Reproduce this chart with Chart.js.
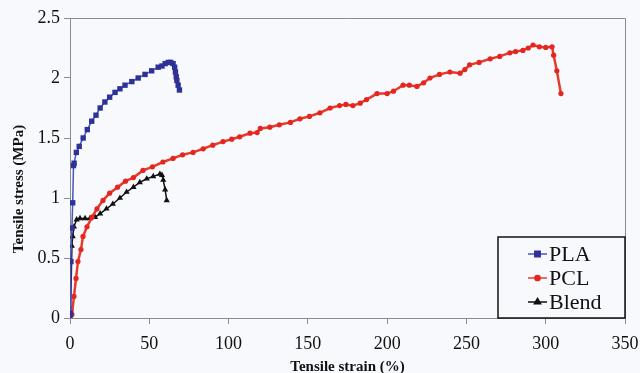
<!DOCTYPE html>
<html>
<head>
<meta charset="utf-8">
<script src="https://cdn.jsdelivr.net/npm/chart.js@4/dist/chart.umd.min.js"></script>
<style>
html, body { margin: 0; padding: 0; background: #f8f9fc; }
#wrap { width: 640px; height: 373px; }
</style>
</head>
<body>
<div id="wrap"><canvas id="canvas" width="640" height="373"></canvas></div>
<script>
// tick labels
var xTicks = [0, 50, 100, 150, 200, 250, 300, 350];
var yTicks = [0, 0.5, 1, 1.5, 2, 2.5];

// PLA
var plaStrain = [0, 0.3, 0.6, 1.2, 1.7, 2.2, 2.6, 4, 5.8, 8.3, 10.9, 13.7, 16.4, 19, 22, 25, 28.4, 31.5, 34.7, 39, 43, 47.3, 51.5, 55.6, 58, 60, 62, 63.5, 65, 66, 66.5, 67, 67.4, 68.2, 69];
var plaStress = [0, 0.04, 0.47, 0.75, 0.96, 1.27, 1.29, 1.38, 1.43, 1.5, 1.57, 1.64, 1.69, 1.75, 1.8, 1.84, 1.88, 1.91, 1.94, 1.97, 2.0, 2.03, 2.06, 2.09, 2.1, 2.12, 2.13, 2.13, 2.12, 2.09, 2.05, 2.01, 1.98, 1.94, 1.9];

// PCL
var pclStrain = [0, 1.2, 2.5, 3.8, 5, 6.9, 8.2, 10.7, 13.9, 17, 20.8, 25, 30, 35, 40, 46, 52, 58.6, 65, 71, 77.6, 84, 90, 96.5, 102, 107, 113.5, 118, 120, 126, 132, 139, 145, 151, 157.6, 164, 170, 174, 178.4, 183, 187, 193.6, 200, 204, 210, 214, 218.8, 223, 227, 233, 239.6, 246, 249, 252, 258, 265, 271, 277.4, 281, 285.6, 289, 292, 296, 300, 304, 305, 307, 309.6];
var pclStress = [0, 0.03, 0.18, 0.33, 0.47, 0.57, 0.68, 0.76, 0.84, 0.91, 0.98, 1.04, 1.09, 1.14, 1.17, 1.23, 1.26, 1.3, 1.33, 1.36, 1.38, 1.41, 1.44, 1.47, 1.49, 1.51, 1.54, 1.545, 1.58, 1.59, 1.61, 1.63, 1.66, 1.68, 1.71, 1.75, 1.77, 1.78, 1.77, 1.79, 1.82, 1.87, 1.87, 1.89, 1.94, 1.94, 1.93, 1.96, 2.0, 2.03, 2.05, 2.04, 2.07, 2.11, 2.13, 2.16, 2.18, 2.21, 2.22, 2.23, 2.25, 2.275, 2.26, 2.255, 2.26, 2.19, 2.06, 1.87];

// Blend
var blendStrain = [0, 0.4, 1.2, 1.7, 2.5, 4.2, 6.3, 9.5, 12.6, 15.8, 19, 23, 27, 31.5, 35.7, 40, 44, 48.4, 52.5, 56.7, 58, 58.8, 60, 61];
var blendStress = [0, 0.08, 0.6, 0.68, 0.76, 0.82, 0.83, 0.83, 0.83, 0.84, 0.87, 0.91, 0.95, 1.0, 1.05, 1.09, 1.13, 1.16, 1.18, 1.2, 1.19, 1.15, 1.07, 0.98];

function pts(xs, ys) {
        return xs.map(function(x, i) { return {x: x, y: ys[i]}; });
}

var serif = 'Liberation Serif, Times New Roman, serif';
var axisGray = '#8c8c8c';

// light background + top/right frame + y title + boxed legend
var decor = {
        id: 'decor',
        beforeDraw: function(chart) {
                var ctx = chart.ctx;
                ctx.save();
                ctx.fillStyle = '#f8f9fc';
                ctx.fillRect(0, 0, chart.width, chart.height);
                ctx.restore();
        },
        afterDraw: function(chart) {
                var ctx = chart.ctx, a = chart.chartArea;
                ctx.save();
                ctx.strokeStyle = axisGray;
                ctx.lineWidth = 1;
                ctx.beginPath();
                ctx.moveTo(a.left, a.top + 0.5);
                ctx.lineTo(a.right + 0.5, a.top + 0.5);
                ctx.lineTo(a.right + 0.5, a.bottom);
                ctx.stroke();

                // y axis title
                ctx.fillStyle = '#111';
                ctx.font = 'bold 15px ' + serif;
                ctx.textAlign = 'center';
                ctx.textBaseline = 'middle';
                ctx.translate(19, 189);
                ctx.rotate(-Math.PI / 2);
                ctx.fillText('Tensile stress (MPa)', 0, 0);
                ctx.restore();

                // legend box
                var w = 127, h = 81;
                var bx = a.right - w, by = a.bottom - h;
                ctx.save();
                ctx.fillStyle = '#f8f9fc';
                ctx.fillRect(bx, by, w, h);
                ctx.strokeStyle = '#111';
                ctx.lineWidth = 1.5;
                ctx.strokeRect(bx, by, w, h);
                ctx.font = '22px ' + serif;
                ctx.textBaseline = 'middle';
                ctx.textAlign = 'left';
                chart.data.datasets.forEach(function(ds, i) {
                        var y = by + 17 + i * 24;
                        ctx.strokeStyle = ds.borderColor;
                        ctx.lineWidth = 1.5;
                        ctx.beginPath();
                        ctx.moveTo(bx + 30, y);
                        ctx.lineTo(bx + 49, y);
                        ctx.stroke();
                        ctx.fillStyle = ds.pointBackgroundColor;
                        ctx.strokeStyle = ds.pointBackgroundColor;
                        Chart.helpers.drawPoint(ctx, {
                                pointStyle: ds.pointStyle,
                                radius: ds.pointRadius,
                                borderWidth: 1
                        }, bx + 39.5, y);
                        ctx.fillStyle = '#111';
                        ctx.fillText(ds.label, bx + 51, y + 1);
                });
                ctx.restore();
        }
};

var config = {
        type: 'scatter',
        data: {
                datasets: [{
                        label: 'PLA',
                        data: pts(plaStrain, plaStress),
                        showLine: true,
                        borderColor: '#4656c0',
                        borderWidth: 1.5,
                        pointStyle: 'rect',
                        pointRadius: 3.8,
                        pointBackgroundColor: '#2e3196',
                        pointBorderColor: '#2e3196',
                        pointBorderWidth: 0
                }, {
                        label: 'PCL',
                        data: pts(pclStrain, pclStress),
                        showLine: true,
                        borderColor: '#e83a2c',
                        borderWidth: 2.5,
                        pointStyle: 'circle',
                        pointRadius: 2.6,
                        pointBackgroundColor: '#e4261e',
                        pointBorderColor: '#e4261e',
                        pointBorderWidth: 0
                }, {
                        label: 'Blend',
                        data: pts(blendStrain, blendStress),
                        showLine: true,
                        borderColor: '#111111',
                        borderWidth: 1.5,
                        pointStyle: 'triangle',
                        pointRadius: 3.6,
                        pointBackgroundColor: '#111111',
                        pointBorderColor: '#111111',
                        pointBorderWidth: 0
                }]
        },
        options: {
                responsive: false,
                animation: false,
                layout: {padding: {top: 18, right: 15, left: 0, bottom: 0}},
                plugins: {
                        legend: {display: false},
                        tooltip: {enabled: false}
                },
                scales: {
                        x: {
                                type: 'linear',
                                min: 0,
                                max: 350,
                                afterBuildTicks: function(scale) {
                                        scale.ticks = xTicks.map(function(v) { return {value: v}; });
                                },
                                afterFit: function(scale) {
                                        scale.height = 55;
                                        scale.paddingLeft = 0;
                                        scale.paddingRight = 0;
                                },
                                border: {color: axisGray, width: 1},
                                grid: {drawOnChartArea: false, color: axisGray, tickLength: 6},
                                ticks: {
                                        color: '#111',
                                        padding: 9,
                                        maxRotation: 0,
                                        font: {family: serif, size: 18},
                                        callback: function(v) { return String(v); }
                                },
                                title: {
                                        display: true,
                                        text: 'Tensile strain (%)',
                                        color: '#111',
                                        padding: {top: 0, bottom: -3},
                                        font: {family: serif, size: 15, weight: 'bold'}
                                }
                        },
                        y: {
                                type: 'linear',
                                min: 0,
                                max: 2.5,
                                afterBuildTicks: function(scale) {
                                        scale.ticks = yTicks.map(function(v) { return {value: v}; });
                                },
                                afterFit: function(scale) {
                                        scale.width = 70;
                                        scale.paddingTop = 0;
                                        scale.paddingBottom = 0;
                                },
                                border: {color: axisGray, width: 1},
                                grid: {drawOnChartArea: false, color: axisGray, tickLength: 6},
                                ticks: {
                                        color: '#111',
                                        padding: 4,
                                        font: {family: serif, size: 18},
                                        callback: function(v) { return String(v); }
                                }
                        }
                }
        },
        plugins: [decor]
};

window.onload = function() {
        var ctx = document.getElementById('canvas').getContext('2d');
        window.myLine = new Chart(ctx, config);
};
</script>
</body>
</html>
